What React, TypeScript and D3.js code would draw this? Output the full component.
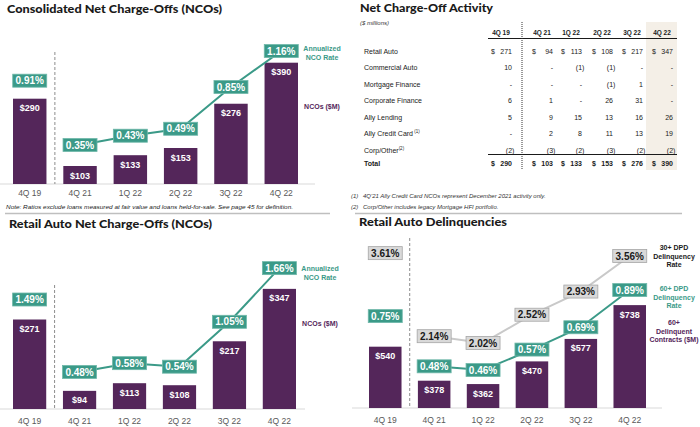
import React from 'react';
import * as d3 from 'd3';

// ---------- DATA ----------
const quarters = ['4Q 19', '4Q 21', '1Q 22', '2Q 22', '3Q 22', '4Q 22'];

const consolidatedNCO = [290, 103, 133, 153, 276, 390];
const consolidatedRate = [0.91, 0.35, 0.43, 0.49, 0.85, 1.16];

const retailNCO = [271, 94, 113, 108, 217, 347];
const retailRate = [1.49, 0.48, 0.58, 0.54, 1.05, 1.66];

const delinquent60Amt = [540, 378, 362, 470, 577, 738];
const dpd60Rate = [0.75, 0.48, 0.46, 0.57, 0.69, 0.89];
const dpd30Rate = [3.61, 2.14, 2.02, 2.52, 2.93, 3.56];

const tableRowLabels = ['Retail Auto', 'Commercial Auto', 'Mortgage Finance', 'Corporate Finance', 'Ally Lending', 'Ally Credit Card', 'Corp/Other'];
const tableRowNotes = ['', '', '', '', '', '(1)', '(2)'];
const rowRetailAuto = [271, 94, 113, 108, 217, 347];
const rowCommercialAuto = [10, null, -1, -1, null, null];
const rowMortgageFinance = [null, null, null, -1, 1, null];
const rowCorporateFinance = [6, 1, null, 26, 31, null];
const rowAllyLending = [5, 9, 15, 13, 16, 26];
const rowAllyCreditCard = [null, 2, 8, 11, 13, 19];
const rowCorpOther = [-2, -3, -2, -3, -2, -2];
const rowTotal = [290, 103, 133, 153, 276, 390];

const footnotes = [
  ['(1)', "4Q'21 Ally Credit Card NCOs represent December 2021 activity only."],
  ['(2)', 'Corp/Other includes legacy Mortgage HFI portfolio.'],
];

// ---------- STYLE ----------
const PURPLE = '#54265a';
const TEAL = '#3b9a88';
const GRAY_BOX = '#d9d9d9';
const GRAY_LINE = '#c9c9c9';
const TITLE_FONT = 'Lato, "Open Sans", sans-serif';
const BODY_FONT = '"Liberation Sans", Arial, sans-serif';

const pct = (v: number) => `${v.toFixed(2)}%`;

function RateBox({ x, y, v, kind }: { x: number; y: number; v: number; kind: 'teal' | 'gray' }) {
  const w = 34, h = 13;
  return (
    <g>
      <rect x={x - w / 2} y={y - h / 2} width={w} height={h}
        fill={kind === 'teal' ? TEAL : GRAY_BOX}
        stroke={kind === 'teal' ? '#6fb8aa' : '#a6a6a6'} strokeWidth={0.8} />
      <text x={x} y={y + 3.6} textAnchor="middle" fontFamily={BODY_FONT} fontWeight="bold"
        fontSize={10} fill={kind === 'teal' ? '#ffffff' : '#1a1a1a'}>{pct(v)}</text>
    </g>
  );
}

type ChartProps = {
  title: string; titleX: number; titleY: number; titleLen: number;
  xRange: [number, number]; baseline: number; baselineRange: [number, number];
  amounts: number[]; barDomain: [number, number]; barTop: number;
  dividerTop: number; labelY: number;
};

function Bars({ xRange, baseline, amounts, barDomain, barTop, baselineRange, dividerTop, labelY }: ChartProps) {
  const x = d3.scaleBand<string>().domain(quarters).range(xRange).paddingInner(0.335).paddingOuter(0);
  const y = d3.scaleLinear().domain(barDomain).range([baseline, barTop]);
  const divX = ((x(quarters[0]) as number) + x.bandwidth() + (x(quarters[1]) as number)) / 2;
  return (
    <g>
      <line x1={baselineRange[0]} x2={baselineRange[1]} y1={baseline} y2={baseline} stroke="#d9d9d9" strokeWidth={1} />
      {amounts.map((v, i) => {
        const bx = x(quarters[i]) as number;
        const top = y(v);
        return (
          <g key={i}>
            <rect x={bx} y={top} width={x.bandwidth()} height={baseline - top} fill={PURPLE} />
            <text x={bx + x.bandwidth() / 2} y={top + 12.5} textAnchor="middle" fontFamily={BODY_FONT}
              fontWeight="bold" fontSize={9} fill="#fff">${v}</text>
          </g>
        );
      })}
      <line x1={divX} x2={divX} y1={dividerTop} y2={baseline} stroke="#8c8c8c" strokeWidth={1} strokeDasharray="3,2" />
      {quarters.map((q, i) => (
        <text key={q} x={(x(q) as number) + x.bandwidth() / 2} y={labelY} textAnchor="middle"
          fontFamily={BODY_FONT} fontSize={8.5} fill="#595959">{q}</text>
      ))}
    </g>
  );
}

function RateSeries({ xRange, rates, domain, range, kind, firstY }: {
  xRange: [number, number]; rates: number[]; domain: [number, number]; range: [number, number];
  kind: 'teal' | 'gray'; firstY?: number;
}) {
  const x = d3.scaleBand<string>().domain(quarters).range(xRange).paddingInner(0.335).paddingOuter(0);
  const y = d3.scaleLinear().domain(domain).range(range);
  const cx = (i: number) => (x(quarters[i]) as number) + x.bandwidth() / 2;
  const pts = rates.map((r, i) => [cx(i), y(r)] as [number, number]).slice(1);
  const line = d3.line();
  return (
    <g>
      <path d={line(pts) as string} fill="none" stroke={kind === 'teal' ? TEAL : GRAY_LINE} strokeWidth={2} />
      {rates.map((r, i) => (
        <RateBox key={i} x={cx(i)} y={i === 0 && firstY !== undefined ? firstY : y(r)} v={r} kind={kind} />
      ))}
    </g>
  );
}

function Legend({ x, y0, lines, color }: { x: number; y0: number; lines: string[]; color: string }) {
  return (
    <g>
      {lines.map((l, i) => (
        <text key={i} x={x} y={y0 + i * 8.5} textAnchor="middle" fontFamily={BODY_FONT} fontWeight="bold"
          fontSize={7} fill={color}>{l}</text>
      ))}
    </g>
  );
}

function fmtCell(v: number | null) {
  if (v === null) return '-';
  if (v < 0) return `(${Math.abs(v)})`;
  return `${v}`;
}

function Table() {
  const rows = [rowRetailAuto, rowCommercialAuto, rowMortgageFinance, rowCorporateFinance, rowAllyLending, rowAllyCreditCard, rowCorpOther];
  const colRight = d3.scaleOrdinal<string, number>().domain(quarters).range([512, 553, 582, 613, 643, 673]);
  const rowY = d3.scalePoint<string>().domain(tableRowLabels).range([51, 150]);
  const headerY = 35;
  const totalY = 166;
  const lastQ = quarters[quarters.length - 1];
  return (
    <g fontFamily={BODY_FONT}>
      <text x={360} y={12} fontFamily={TITLE_FONT} fontWeight={900} fontSize={12} fill="#1a1a1a"
        textLength={133} lengthAdjust="spacingAndGlyphs">Net Charge-Off Activity</text>
      <text x={360} y={25} fontSize={6} fontStyle="italic" fill="#333">($ millions)</text>
      <rect x={colRight(lastQ) - 27} y={22} width={31} height={148} fill="#f4efe7" />
      {quarters.map((q) => (
        <text key={q} x={colRight(q) - 11} y={headerY} textAnchor="middle" fontSize={6.5} fontWeight="bold" fill="#1a1a1a">{q}</text>
      ))}
      <line x1={488} x2={677} y1={38.5} y2={38.5} stroke="#1a1a1a" strokeWidth={1.2} />
      <line x1={522} x2={522} y1={22} y2={170} stroke="#333" strokeWidth={1} strokeDasharray="1,1" />
      {tableRowLabels.map((lab, r) => (
        <g key={lab}>
          <text x={364} y={(rowY(lab) as number) + 2.5} fontSize={7} fill="#1a1a1a">
            {lab}
            {tableRowNotes[r] && <tspan fontSize={4.5} dy={-3}>{(r === 5 ? ' ' : '') + tableRowNotes[r]}</tspan>}
          </text>
          {rows[r].map((v, c) => {
            const q = quarters[c];
            const yy = (rowY(lab) as number) + 2.5;
            return (
              <g key={c}>
                {r === 0 && <text x={colRight(q) - 21} y={yy} fontSize={7} fill="#1a1a1a">$</text>}
                <text x={colRight(q) + (v !== null && v < 0 ? 2.4 : 0)} y={yy} textAnchor="end" fontSize={7} fill="#1a1a1a">{fmtCell(v)}</text>
              </g>
            );
          })}
        </g>
      ))}
      <line x1={488} x2={677} y1={154.5} y2={154.5} stroke="#1a1a1a" strokeWidth={1.2} />
      <text x={364} y={totalY} fontSize={7} fontWeight="bold" fill="#1a1a1a">Total</text>
      {rowTotal.map((v, c) => (
        <g key={c}>
          <text x={colRight(quarters[c]) - 21} y={totalY} fontSize={7} fontWeight="bold" fill="#1a1a1a">$</text>
          <text x={colRight(quarters[c])} y={totalY} textAnchor="end" fontSize={7} fontWeight="bold" fill="#1a1a1a">{v}</text>
        </g>
      ))}
      {footnotes.map((f, i) => (
        <g key={i}>
          <text x={351} y={198 + i * 11} fontSize={6} fontStyle="italic" fill="#333">{f[0]}</text>
          <text x={363} y={198 + i * 11} fontSize={6} fontStyle="italic" fill="#333">{f[1]}</text>
        </g>
      ))}
    </g>
  );
}

export default function App() {
  // Chart 1 geometry
  const c1: ChartProps = {
    title: 'Consolidated Net Charge-Offs (NCOs)', titleX: 7, titleY: 13, titleLen: 215,
    xRange: [13, 298], baseline: 184, baselineRange: [0, 315], amounts: consolidatedNCO,
    barDomain: [53, 400], barTop: 59.1, dividerTop: 52, labelY: 196,
  };
  const c2: ChartProps = {
    title: 'Retail Auto Net Charge-Offs (NCOs)', titleX: 9, titleY: 228, titleLen: 203,
    xRange: [13, 296], baseline: 409, baselineRange: [0, 305], amounts: retailNCO,
    barDomain: [49, 400], barTop: 267.5, dividerTop: 285, labelY: 424,
  };
  const c4: ChartProps = {
    title: 'Retail Auto Delinquencies', titleX: 359, titleY: 226, titleLen: 148,
    xRange: [369, 646], baseline: 408, baselineRange: [352, 662], amounts: delinquent60Amt,
    barDomain: [248, 800], barTop: 292.1, dividerTop: 238, labelY: 423,
  };
  const y1Bar = d3.scaleLinear().domain(c1.barDomain).range([c1.baseline, c1.barTop]);
  const y2Bar = d3.scaleLinear().domain(c2.barDomain).range([c2.baseline, c2.barTop]);

  return (
    <svg width={700} height={427} style={{ position: 'absolute', left: 0, top: 0, background: '#fff' }}>
      <rect x={0} y={0} width={700} height={427} fill="#fff" />
      {[c1, c2, c4].map((c) => (
        <text key={c.title} x={c.titleX} y={c.titleY} fontFamily={TITLE_FONT} fontWeight={900} fontSize={12}
          fill="#1a1a1a" textLength={c.titleLen} lengthAdjust="spacingAndGlyphs">{c.title}</text>
      ))}

      {/* Chart 1 */}
      <Bars {...c1} />
      <RateSeries xRange={c1.xRange} rates={consolidatedRate} domain={[0, 1.2]} range={[185.6, 46.4]} kind="teal"
        firstY={y1Bar(consolidatedNCO[0]) - 18} />
      <Legend x={322} y0={51} lines={['Annualized', 'NCO Rate']} color={TEAL} />
      <Legend x={322} y0={109} lines={['NCOs ($M)']} color={PURPLE} />
      <text x={6} y={209} fontFamily={BODY_FONT} fontStyle="italic" fontSize={6} fill="#1a1a1a"
        textLength={287} lengthAdjust="spacingAndGlyphs">Note: Ratios exclude loans measured at fair value and loans held-for-sale. See page 45 for definition.</text>
      <line x1={5} x2={330} y1={213.5} y2={213.5} stroke="#bfbfbf" strokeWidth={1.5} />

      {/* Chart 2 */}
      <Bars {...c2} />
      <RateSeries xRange={c2.xRange} rates={retailRate} domain={[0, 2]} range={[414.2, 238.2]} kind="teal"
        firstY={y2Bar(retailNCO[0]) - 20} />
      <Legend x={320} y0={271} lines={['Annualized', 'NCO Rate']} color={TEAL} />
      <Legend x={320} y0={326} lines={['NCOs ($M)']} color={PURPLE} />

      {/* Table */}
      <Table />
      <line x1={355} x2={682} y1={213.5} y2={213.5} stroke="#bfbfbf" strokeWidth={1.5} />

      {/* Chart 4 */}
      <Bars {...c4} />
      <RateSeries xRange={c4.xRange} rates={dpd30Rate} domain={[0, 4]} range={[457.1, 231.1]} kind="gray" />
      <RateSeries xRange={c4.xRange} rates={dpd60Rate} domain={[0, 1]} range={[455.6, 269.6]} kind="teal" />
      <Legend x={674} y0={250} lines={['30+ DPD', 'Delinquency', 'Rate']} color="#1a1a1a" />
      <Legend x={674} y0={291} lines={['60+ DPD', 'Delinquency', 'Rate']} color={TEAL} />
      <Legend x={674} y0={325} lines={['60+', 'Delinquent', 'Contracts ($M)']} color={PURPLE} />
    </svg>
  );
}
